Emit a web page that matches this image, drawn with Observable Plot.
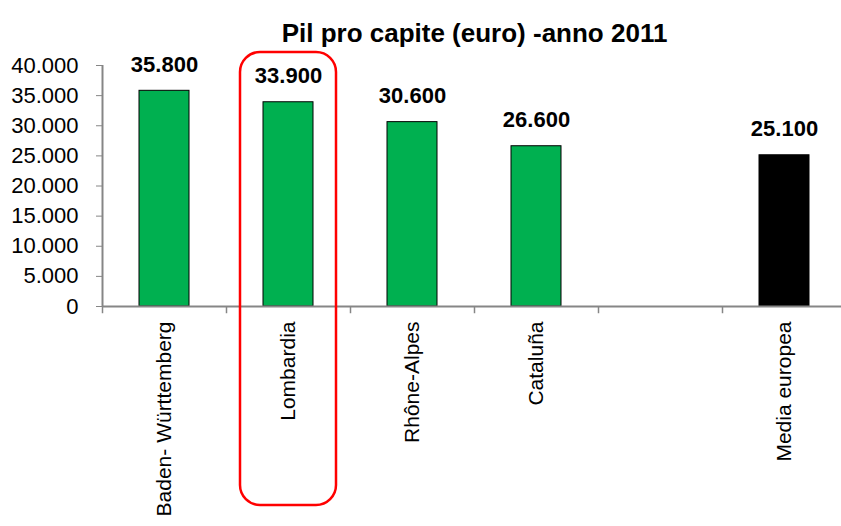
<!DOCTYPE html>
<html>
<head>
<meta charset="utf-8">
<script src="https://cdn.jsdelivr.net/npm/d3@7"></script>
<script src="https://cdn.jsdelivr.net/npm/@observablehq/plot@0.6"></script>
<style>
  body { margin: 0; background: #fff; }
  svg { font-family: "Liberation Sans", Arial, sans-serif; }
</style>
</head>
<body>
<div id="chart"></div>
<script>
const title = "Pil pro capite (euro) -anno 2011";
const categories = ["Baden- Württemberg", "Lombardia", "Rhône-Alpes", "Cataluña", " ", "Media europea"];
const values = [35800, 33900, 30600, 26600, null, 25100];
const yTicks = [0, 5000, 10000, 15000, 20000, 25000, 30000, 35000, 40000];
const highlighted = "Lombardia";
const average = "Media europea";

const data = categories.map((c, i) => ({region: c, value: values[i]})).filter(d => d.value != null);
const fmt = v => d3.format(",")(v).replace(/,/g, ".");
const gray = "#868686";

const plot = Plot.plot({
  width: 841,
  height: 526,
  marginLeft: 102,
  marginRight: -5,
  marginTop: 65,
  marginBottom: 220,
  style: {fontFamily: "'Liberation Sans', Arial, sans-serif", overflow: "visible"},
  x: {domain: categories, padding: 0},
  y: {domain: [0, 40000]},
  marks: [
    Plot.barY(data, {
      x: "region", y: "value",
      insetLeft: 37, insetRight: 37,
      fill: d => d.region === average ? "#000000" : "#00b050",
      stroke: "#000", strokeWidth: 1
    }),
    Plot.ruleY([0], {stroke: gray, strokeWidth: 2}),
    Plot.ruleX([categories[0]], {dx: -62, y1: 0, y2: 40000, stroke: gray, strokeWidth: 2}),
    Plot.ruleX(categories, {dx: -62, y1: 0, y2: -1200, stroke: gray, strokeWidth: 1.5}),
    Plot.axisY({ticks: yTicks, tickFormat: fmt, tickSize: 6, tickPadding: 18, fontSize: 22, stroke: gray, color: "#000", label: null, dx: 0}),
    Plot.axisX({tickRotate: -90, tickSize: 0, tickPadding: 15, fontSize: 21, label: null, color: "#000"}),
    Plot.text(data, {x: "region", y: "value", text: d => fmt(d.value), dy: -26, fontSize: 22, fontWeight: "bold", fill: "#000"}),
    Plot.text([title], {frameAnchor: "top", dy: -42, fontSize: 26, fontWeight: "bold", fill: "#000"})
  ]
});

document.getElementById("chart").appendChild(plot);

// highlight box around the highlighted category, positioned from the x scale
const xs = plot.scale("x");
const x0 = xs.apply(highlighted);
const bw = xs.bandwidth;
d3.select(plot).append("rect")
  .attr("x", x0 + 14)
  .attr("width", bw - 28)
  .attr("y", 52)
  .attr("height", 453)
  .attr("rx", 20)
  .attr("fill", "none")
  .attr("stroke", "#ff0000")
  .attr("stroke-width", 2.5);
</script>
</body>
</html>
